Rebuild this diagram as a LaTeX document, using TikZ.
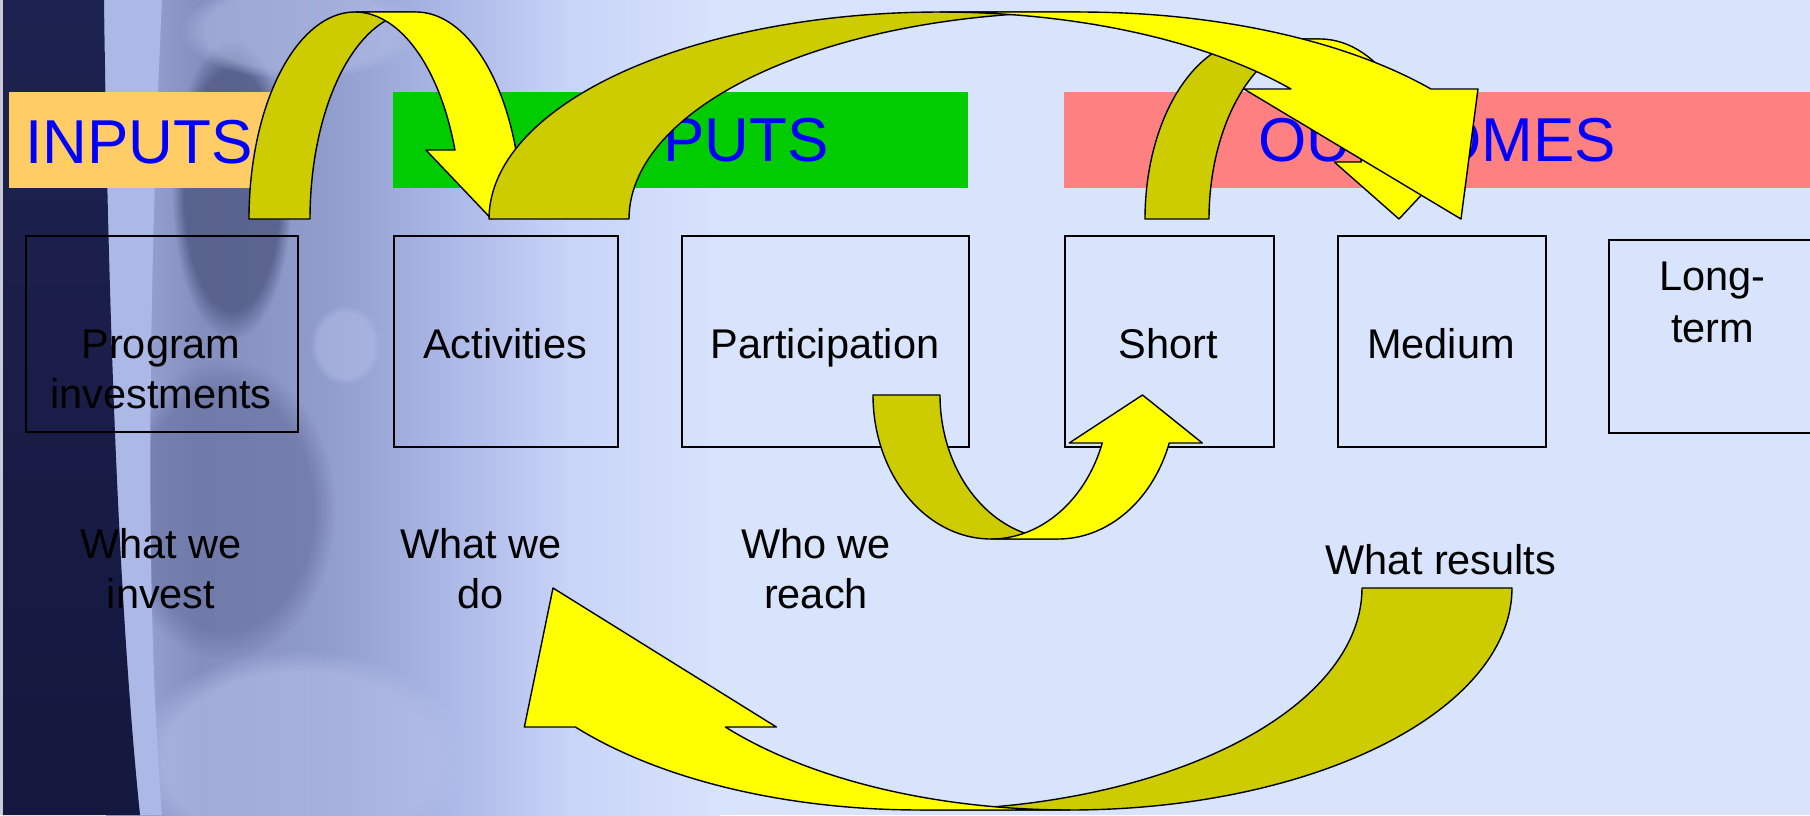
\documentclass[tikz,border=0pt]{standalone}
\usepackage{fontspec}
\setmainfont{Liberation Sans}
\usetikzlibrary{fadings}
\definecolor{bglight}{RGB}{216,227,252}
\definecolor{navy}{RGB}{30,34,80}
\definecolor{navydeep}{RGB}{20,24,62}
\definecolor{edgeline}{RGB}{200,202,215}
\definecolor{rimlight}{RGB}{172,185,230}
\definecolor{hubdark}{RGB}{78,88,130}
\definecolor{lowdark}{RGB}{100,110,155}
\definecolor{softlight}{RGB}{180,191,232}
\definecolor{ph1}{RGB}{160,172,220}
\definecolor{ph2}{RGB}{132,143,192}
\definecolor{ph3}{RGB}{145,157,205}
\definecolor{ph4}{RGB}{172,184,230}
\definecolor{ph5}{RGB}{200,212,248}
\definecolor{orangebar}{RGB}{255,204,102}
\definecolor{greenbar}{RGB}{0,204,0}
\definecolor{redbar}{RGB}{255,128,128}
\definecolor{titleblue}{RGB}{0,0,255}
\definecolor{arrowyellow}{RGB}{255,255,0}
\definecolor{arrowdark}{RGB}{204,204,0}
% #1 cx of outer ellipse, #2 centre-line y, #3 a, #4 b, #5 band width,
% #6 head-base height, #7 barb overhang, #8 x sign, #9 y sign
\newcommand{\bentarrow}[9]{%
  \pgfmathsetmacro\angh{asin(#6/#4)}%
  \pgfmathsetmacro\cangh{cos(\angh)}%
  \filldraw[arrowback]
    plot[domain=180:90,samples=70,variable=\t]
      ({#1+(#8)*#3*cos(\t)},{#2+(#9)*#4*sin(\t)})
    -- plot[domain=90:180,samples=70,variable=\t]
      ({#1+(#8)*(#5+#3*cos(\t))},{#2+(#9)*#4*sin(\t)})
    -- cycle;
  \filldraw[arrowfront]
    plot[domain=90:\angh,samples=70,variable=\t]
      ({#1+(#8)*(#5+#3*cos(\t))},{#2+(#9)*#4*sin(\t)})
    -- ({#1+(#8)*(#5+#3*\cangh+#7)},{#2+(#9)*#6})
    -- ({#1+(#8)*(#5/2+#3)},{#2})
    -- ({#1+(#8)*(#3*\cangh-#7)},{#2+(#9)*#6})
    -- plot[domain=\angh:90,samples=70,variable=\t]
      ({#1+(#8)*#3*cos(\t)},{#2+(#9)*#4*sin(\t)})
    -- cycle;}
\begin{document}
\begin{tikzpicture}[x=1pt,y=1pt,
  box/.style={draw=black,line width=2.2pt,rectangle,inner sep=0pt,anchor=north west},
  bar/.style={rectangle,inner sep=0pt,anchor=north west,minimum height=96pt,
    text=titleblue,font=\fontsize{62}{74}\selectfont},
  bartext/.style={inner sep=0pt,text=titleblue,font=\fontsize{62}{74}\selectfont},
  lbl/.style={inner sep=0pt,anchor=base,font=\fontsize{41.5}{50}\selectfont},
  blob/.style={path fading=circle with fuzzy edge 20 percent},
  arrowback/.style={fill=arrowdark,draw=black,line width=1.4pt,line join=round},
  arrowfront/.style={fill=arrowyellow,draw=black,line width=1.4pt,line join=round}]
\useasboundingbox (0,0) rectangle (1810,-815);
% background
\fill[bglight] (0,0) rectangle (1810,-815);
\shade[left color=ph1,right color=ph2] (106,0) rectangle (201,-815);
\shade[left color=ph2,right color=ph3] (200,0) rectangle (331,-815);
\shade[left color=ph3,right color=ph4] (330,0) rectangle (451,-815);
\shade[left color=ph4,right color=ph5] (450,0) rectangle (571,-815);
\shade[left color=ph5,right color=bglight] (570,0) rectangle (720,-815);
\fill[lowdark,blob,opacity=0.6] (225,-510) ellipse[x radius=110,y radius=150];
\fill[hubdark,blob,opacity=0.8] (232,-190) ellipse[x radius=60,y radius=150];
\fill[softlight,blob,opacity=0.6] (300,-760) ellipse[x radius=170,y radius=110];
\fill[softlight,blob,opacity=0.5] (300,-30) ellipse[x radius=120,y radius=50];
\fill[softlight,blob,opacity=0.5] (345,-345) ellipse[x radius=35,y radius=40];
\fill[rimlight] (104,0) -- (162,0) .. controls (148,-300) and (145,-600) .. (162,-815)
  -- (140,-815) .. controls (118,-600) and (108,-300) .. (104,0) -- cycle;
\shade[top color=navy,bottom color=navydeep] (3,0) -- (104,0)
  .. controls (108,-300) and (118,-600) .. (140,-815) -- (3,-815) -- cycle;
\fill[edgeline] (0,0) rectangle (3,-815);
% header bars
\node[bar,fill=orangebar,minimum width=263pt] (inbar) at (9,-92) {};
\node[bartext,anchor=base west] (intext) at (25,-163) {INPUTS};
\node[bar,fill=greenbar,minimum width=575pt] (outbar) at (393,-92) {OUTPUTS};
\node[bar,fill=redbar,minimum width=746pt] (ocbar) at (1064,-92) {OUTCOMES};
% boxes
\node[box,minimum width=272pt,minimum height=196pt] (bprog) at (25,-235) {};
\node[box,minimum width=224pt,minimum height=211pt] (bact) at (393,-235) {};
\node[box,minimum width=287pt,minimum height=211pt] (bpart) at (681,-235) {};
\node[box,minimum width=209pt,minimum height=211pt] (bshort) at (1064,-235) {};
\node[box,minimum width=208pt,minimum height=211pt] (bmed) at (1337,-235) {};
\node[box,minimum width=210pt,minimum height=193pt] (blong) at (1608,-239) {};
% box texts
\node[lbl] (tprog) at (161,-358) {\begin{tabular}[t]{@{}c@{}}Program\\investments\end{tabular}};
\node[lbl] (tact) at (505,-358) {Activities};
\node[lbl] (tpart) at (825,-358) {Participation};
\node[lbl] (tshort) at (1168.5,-358) {Short};
\node[lbl] (tmed) at (1441,-358) {Medium};
\node[lbl] (tlong) at (1712.5,-290) {\begin{tabular}[t]{@{}c@{}}Long-\\[2pt]term\end{tabular}};
% lower labels
\node[lbl] (linvest) at (161,-558) {\begin{tabular}[t]{@{}c@{}}What we\\invest\end{tabular}};
\node[lbl] (ldo) at (481,-558) {\begin{tabular}[t]{@{}c@{}}What we\\do\end{tabular}};
\node[lbl] (lreach) at (816,-558) {\begin{tabular}[t]{@{}c@{}}Who we\\reach\end{tabular}};
\node[lbl] (lresults) at (1441,-574) {What results};
% curved arrows
\bentarrow{355}{-219}{106}{207}{61}{69}{29}{1}{1}
\bentarrow{1256}{-219}{111}{180}{64}{57}{27}{1}{1}
\bentarrow{940}{-219}{451}{207}{140}{130}{47}{1}{1}
\bentarrow{991}{-395}{118}{144}{67}{48}{33}{1}{-1}
\bentarrow{1070}{-588}{442}{222}{150}{139}{51}{-1}{-1}
\end{tikzpicture}
\end{document}
